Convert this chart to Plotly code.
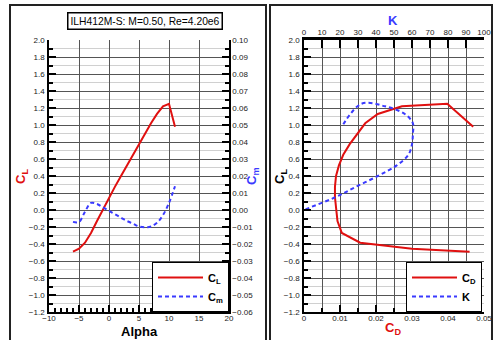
import plotly.graph_objects as go

# ---- data ----
alpha = [-6, -5, -4, -3, -2, -1, 0, 1, 2, 3, 4, 5, 6, 7, 8, 9, 10, 11]
cl = [-0.49, -0.455, -0.385, -0.27, -0.13, 0.01, 0.15, 0.275, 0.40, 0.525,
      0.65, 0.775, 0.90, 1.02, 1.13, 1.22, 1.25, 0.98]
cm = [-0.007, -0.007, -0.001, 0.0042, 0.0035, 0.0015, -0.0005, -0.0025, -0.0045,
      -0.0065, -0.008, -0.0097, -0.0102, -0.0097, -0.0075, -0.003, 0.0042, 0.014]
cd = [0.046, 0.030, 0.0156, 0.0105, 0.0093, 0.0089, 0.0086, 0.0086, 0.0089,
      0.0097, 0.0109, 0.0127, 0.0148, 0.0170, 0.0205, 0.0272, 0.0398, 0.0470]
k = [-10.7, -15.2, -24.7, -25.7, -14.0, 1.1, 17.4, 29.0, 41.0, 51.5, 58.0,
     60.0, 60.5, 60.5, 56.0, 45.0, 32.0, 21.0]
cl_grid_ticks = [-1.2, -1.0, -0.8, -0.6, -0.4, -0.2, 0.0, 0.2, 0.4, 0.6, 0.8,
                 1.0, 1.2, 1.4, 1.6, 1.8]

title_text = "ILH412M-S: M=0.50, Re=4.20e6"

W, H = 494, 340
RED = "#e01010"
BLUE = "#3a3aff"
FONT = "Liberation Sans, Arial, sans-serif"


def px(x):
    return x / W


def py(y):
    return (H - y) / H


left_dom = [px(49), px(229)]
right_dom = [px(304), px(484)]
ydom = [py(312), py(40)]

tickfont = dict(family=FONT, size=8, color="#222")
major_grid = "#555555"
minor_grid = "#d0d0d0"

fig = go.Figure()

# empty trace so that the grid-only overlay axis of the left panel is drawn
fig.add_trace(go.Scatter(x=[], y=[], xaxis="x", yaxis="y5", showlegend=False,
                         hoverinfo="skip"))
fig.add_trace(go.Scatter(x=alpha, y=cl, mode="lines", name="<b>C<sub>L</sub></b>",
                         line=dict(color=RED, width=2), xaxis="x", yaxis="y", legend="legend"))
fig.add_trace(go.Scatter(x=alpha, y=cm, mode="lines", name="<b>C<sub>m</sub></b>",
                         line=dict(color=BLUE, width=2, dash="4px,3px"), xaxis="x", yaxis="y2",
                         legend="legend", line_shape="spline"))
fig.add_trace(go.Scatter(x=cd, y=cl, mode="lines", name="<b>C<sub>D</sub></b>",
                         line=dict(color=RED, width=2), xaxis="x3", yaxis="y3", legend="legend2"))
fig.add_trace(go.Scatter(x=k, y=cl, mode="lines", name="<b>K</b>",
                         line=dict(color=BLUE, width=2, dash="4px,3px"), xaxis="x4", yaxis="y3",
                         legend="legend2", line_shape="spline"))

common = dict(ticks="inside", tickcolor="black", showline=True, linecolor="black",
              linewidth=1.5, zeroline=False, tickfont=tickfont, automargin=False)

fig.update_layout(
    width=W, height=H, autosize=False,
    margin=dict(l=0, r=0, t=0, b=0, pad=0, autoexpand=False),
    paper_bgcolor="white", plot_bgcolor="white",
    font=dict(family=FONT),
    xaxis=dict(domain=left_dom, anchor="y", range=[-10, 20], tick0=-10, dtick=5,
               ticklen=7, tickwidth=1.5, showgrid=True, gridcolor=major_grid, gridwidth=1,
               ticklabelstandoff=-2,
               minor=dict(dtick=1, ticks="inside", ticklen=4, tickcolor="black", showgrid=False),
               **common),
    yaxis=dict(domain=ydom, anchor="x", range=[-1.2, 2.0], tick0=-1.2, dtick=0.2, tickformat=".1f",
               ticklen=7, tickwidth=1.5, showgrid=False, ticklabelstandoff=1,
               minor=dict(dtick=0.1, ticks="inside", ticklen=4, tickcolor="black", showgrid=False),
               **common),
    # grid-only axis for the left panel (no line at the open top edge)
    yaxis5=dict(overlaying="y", anchor="x", range=[-1.2, 2.0], tickmode="array",
                tickvals=cl_grid_ticks, showticklabels=False, ticks="", showline=False,
                zeroline=False, showgrid=True, gridcolor=major_grid, gridwidth=1, automargin=False,
                minor=dict(dtick=0.1, ticks="", showgrid=True, gridcolor=minor_grid)),
    yaxis2=dict(overlaying="y", side="right", anchor="x", range=[-0.06, 0.10], tick0=-0.06, dtick=0.01,
                tickformat=".2f", ticklen=7, tickwidth=1.5, showgrid=False, ticklabelstandoff=0,
                minor=dict(dtick=0.005, ticks="inside", ticklen=4, tickcolor="black"),
                **common),
    xaxis3=dict(domain=right_dom, anchor="y3", range=[0, 0.05], tick0=0, dtick=0.01,
                ticklen=7, tickwidth=2, showgrid=True, gridcolor=major_grid, gridwidth=1,
                ticklabelstandoff=-2,
                minor=dict(dtick=0.005, ticks="inside", ticklen=4, tickcolor="black", showgrid=False),
                **common),
    yaxis3=dict(domain=ydom, anchor="x3", range=[-1.2, 2.0], tick0=-1.2, dtick=0.2, tickformat=".1f",
                ticklen=7, tickwidth=1.5, showgrid=True, gridcolor=major_grid, gridwidth=1,
                ticklabelstandoff=1,
                minor=dict(dtick=0.1, ticks="inside", ticklen=4, tickcolor="black",
                           showgrid=True, gridcolor=minor_grid),
                **common),
    xaxis4=dict(overlaying="x3", side="top", anchor="y3", range=[0, 100], tick0=0, dtick=10,
                ticks="inside", ticklen=8, tickwidth=2, tickcolor="black", showline=True,
                linecolor="black", linewidth=2.5, zeroline=False, tickfont=tickfont,
                showgrid=True, gridcolor=major_grid, gridwidth=1, ticklabelstandoff=-1,
                automargin=False),
    legend=dict(x=px(229), xanchor="right", y=py(312), yanchor="bottom",
                bgcolor="white", bordercolor="black", borderwidth=1,
                font=dict(family=FONT, size=11, color="black"), itemwidth=45,
                tracegroupgap=0),
    legend2=dict(x=px(482), xanchor="right", y=py(312), yanchor="bottom",
                 bgcolor="white", bordercolor="black", borderwidth=1,
                 font=dict(family=FONT, size=11, color="black"), itemwidth=45,
                 tracegroupgap=0),
    showlegend=True,
)

ann = [
    dict(text=title_text, x=px(144.5), y=py(21), font=dict(size=10.3, color="black"),
         bordercolor="black", borderwidth=1.5, borderpad=2, bgcolor="white"),
    dict(text="<b>C<sub>L</sub></b>", x=px(22), y=py(177), textangle=-90,
         font=dict(size=13, color=RED)),
    dict(text="<b>C<sub>m</sub></b>", x=px(253), y=py(177), textangle=-90,
         font=dict(size=13, color=BLUE)),
    dict(text="<b>C<sub>L</sub></b>", x=px(281), y=py(177), textangle=-90,
         font=dict(size=13, color="black")),
    dict(text="<b>Alpha</b>", x=px(139), y=py(331), font=dict(size=13, color="black")),
    dict(text="<b>C<sub>D</sub></b>", x=px(393), y=py(328), font=dict(size=13, color=RED)),
    dict(text="<b>K</b>", x=px(393), y=py(20), font=dict(size=13, color=BLUE)),
]
for a in ann:
    a.update(xref="paper", yref="paper", showarrow=False, xanchor="center", yanchor="middle")
fig.update_layout(annotations=ann)

fig.update_layout(shapes=[
    dict(type="rect", xref="paper", yref="paper", x0=px(10), x1=px(266), y0=-0.1, y1=py(5),
         line=dict(color="#222", width=2), layer="above"),
    dict(type="rect", xref="paper", yref="paper", x0=px(270), x1=px(492), y0=-0.1, y1=py(5),
         line=dict(color="#222", width=2), layer="above"),
])

fig.write_html("out.html")
